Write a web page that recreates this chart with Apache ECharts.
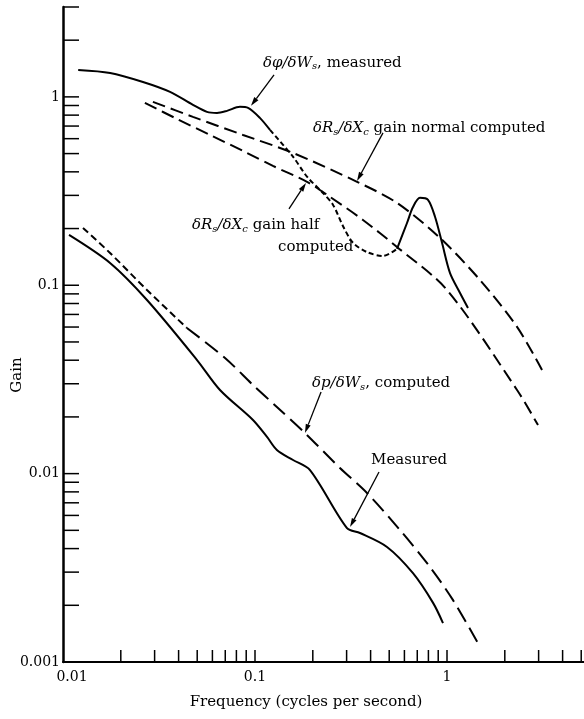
<!DOCTYPE html>
<html><head><meta charset="utf-8">
<script src="https://cdn.jsdelivr.net/npm/echarts@6/dist/echarts.min.js"></script>
<style>html,body{margin:0;padding:0;background:#fff}#c{width:584px;height:719px}</style>
</head><body><div id="c"></div>
<script>
// ---------------- DATA ----------------
// dphi/dWs measured (solid, dashed middle part, solid)
const phiSolid1X = [0.0120,0.0176,0.0261,0.0361,0.0475,0.0562,0.0634,0.0715,0.0835,0.092,0.106,0.1197];
const phiSolid1Y = [1.39,1.34,1.20,1.063,0.907,0.833,0.822,0.843,0.885,0.874,0.774,0.668];
const phiDashX   = [0.1197,0.158,0.187,0.226,0.255,0.287,0.324,0.383,0.464,0.549];
const phiDashY   = [0.668,0.480,0.376,0.309,0.267,0.2065,0.168,0.150,0.143,0.156];
const phiSolid2X = [0.549,0.619,0.665,0.723,0.796,0.866,0.942,1.037,1.169,1.286];
const phiSolid2Y = [0.156,0.214,0.260,0.291,0.284,0.231,0.168,0.116,0.0910,0.0758];
// dRs/dXc gain normal computed
const normalX = [0.0294,0.0475,0.0866,0.1578,0.340,0.549,0.919,1.485,2.316,3.125];
const normalY = [0.941,0.783,0.628,0.504,0.354,0.2736,0.1783,0.1067,0.0601,0.0355];
// dRs/dXc gain half computed
const halfX = [0.0267,0.0392,0.0583,0.0909,0.124,0.1866,0.246,0.365,0.549,1.0,2.316,2.978];
const halfY = [0.929,0.764,0.628,0.504,0.430,0.354,0.2944,0.2222,0.1597,0.0944,0.0278,0.0181];
// dp/dWs computed
const pCompShortX = [0.01271,0.01758,0.02738,0.0442];
const pCompShortY = [0.2015,0.1484,0.0944,0.0593];
const pCompLongX  = [0.0442,0.0698,0.0976,0.130,0.182,0.277,0.383,0.569,0.816,1.075,1.450];
const pCompLongY  = [0.0593,0.0411,0.02955,0.02258,0.01643,0.01071,0.00789,0.00502,0.00319,0.00213,0.00126];
// dp/dWs measured
const pMeasX = [0.01075,0.01758,0.02738,0.0499,0.0657,0.0976,0.1155,0.130,0.1578,0.1934,0.3014,0.352,0.487,0.665,0.846,0.953];
const pMeasY = [0.1850,0.1313,0.0835,0.0401,0.0278,0.01926,0.01565,0.01334,0.01181,0.01045,0.00514,0.00484,0.00408,0.00296,0.00206,0.00161];
// axis ticks and labels
const xTicks = [0.02,0.03,0.04,0.05,0.06,0.07,0.08,0.09,0.1,0.2,0.3,0.4,0.5,0.6,0.7,0.8,0.9,1,2,3,4,5];
const yTicks = [0.002,0.003,0.004,0.005,0.006,0.007,0.008,0.009,0.01,0.02,0.03,0.04,0.05,0.06,0.07,0.08,0.09,0.1,0.2,0.3,0.4,0.5,0.6,0.7,0.8,0.9,1,2,3];
const xLabelValues = [0.01,0.1,1];
const xLabelTexts  = ['0.01','0.1','1'];
const yLabelValues = [0.001,0.01,0.1,1];
const yLabelTexts  = ['0.001','0.01','0.1','1'];
const xMin = 0.01, xMax = 5.17, yMin = 0.001, yMax = 3;
const xTitle = 'Frequency (cycles per second)';
const yTitle = 'Gain';

// annotation texts (anchored in data coordinates)
const annotations = [
  {texts:[{t:'{i|δφ/δW}{s|s}, measured', at:[0.110,1.516]}], from:[0.1256,1.309], tip:[0.0953,0.896]},
  {texts:[{t:'{i|δR}{s|s}{i|/δX}{s|c} gain normal computed', at:[0.2005,0.684]}], from:[0.464,0.644], tip:[0.340,0.358]},
  {texts:[{t:'{i|δR}{s|s}{i|/δX}{s|c} gain half', at:[0.0470,0.209]},{t:'computed', at:[0.1318,0.1597]}], from:[0.1503,0.2542], tip:[0.1843,0.3494]},
  {texts:[{t:'{i|δp/δW}{s|s}, computed', at:[0.198,0.0303]}], from:[0.2208,0.0271], tip:[0.182,0.01643]},
  {texts:[{t:'Measured', at:[0.402,0.01181]}], from:[0.4424,0.0102], tip:[0.3125,0.0052]}
];

// ---------------- CHART ----------------
const FONT = 'DejaVu Serif';
const zip = (X, Y) => X.map((x, i) => [x, Y[i]]);
function lineSeries(X, Y, type) {
  return {type:'line', data: zip(X, Y), showSymbol:false, smooth:0.3, silent:true,
    lineStyle:{color:'#000', width:2, type:type}, z:3};
}
function fmt(values, texts) {
  return function (v) {
    for (let i = 0; i < values.length; i++) {
      if (Math.abs(Math.log10(v) - Math.log10(values[i])) < 1e-6) return i === 0 && values === xLabelValues ? '{first|' + texts[i] + '}' : texts[i];
    }
    return '';
  };
}
const rich = {
  i: {fontFamily: FONT, fontStyle:'italic', fontSize:15, lineHeight:18},
  s: {fontFamily: FONT, fontStyle:'italic', fontSize:10, lineHeight:12, verticalAlign:'bottom'}
};

const chart = echarts.init(document.getElementById('c'), null, {renderer:'canvas'});
chart.setOption({
  animation:false,
  backgroundColor:'#fff',
  grid:{left:63, right:0, top:7, bottom:57},
  xAxis:{type:'log', logBase:10, min:xMin, max:xMax,
    axisLine:{lineStyle:{color:'#000', width:2}}, axisTick:{show:false}, splitLine:{show:false},
    axisLabel:{formatter: fmt(xLabelValues, xLabelTexts), color:'#000', fontFamily:FONT, fontSize:14, margin:8,
      showMaxLabel:false, rich:{first:{fontFamily:FONT, fontSize:14, color:'#000', padding:[0,0,0,18]}}}},
  yAxis:{type:'log', logBase:10, min:yMin, max:yMax,
    axisLine:{lineStyle:{color:'#000', width:2.5}}, axisTick:{show:false}, splitLine:{show:false},
    axisLabel:{formatter: fmt(yLabelValues, yLabelTexts), color:'#000', fontFamily:FONT, fontSize:14, margin:3, showMaxLabel:false}},
  graphic:[
    {type:'text', x:17, y:375, rotation:Math.PI/2, style:{text:yTitle, font:'15px "DejaVu Serif"', fill:'#000', align:'center', verticalAlign:'middle'}},
    {type:'text', x:306, y:702, style:{text:xTitle, font:'15px "DejaVu Serif"', fill:'#000', align:'center', verticalAlign:'middle'}}
  ],
  series:[
    lineSeries(phiSolid1X, phiSolid1Y, 'solid'),
    lineSeries(phiDashX, phiDashY, [5,3]),
    lineSeries(phiSolid2X, phiSolid2Y, 'solid'),
    lineSeries(normalX, normalY, [13,6]),
    lineSeries(halfX, halfY, [13,6]),
    lineSeries(pCompShortX, pCompShortY, [7,4]),
    lineSeries(pCompLongX, pCompLongY, [16,7]),
    lineSeries(pMeasX, pMeasY, 'solid'),
    {type:'custom', silent:true, z:5, data: xTicks.map(v => [v, yMin]),
      renderItem:(p, api) => { const c = api.coord([api.value(0), api.value(1)]);
        return {type:'line', shape:{x1:c[0], y1:c[1], x2:c[0], y2:c[1]-12}, style:{stroke:'#000', lineWidth:1.5}}; }},
    {type:'custom', silent:true, z:5, data: yTicks.map(v => [xMin, v]),
      renderItem:(p, api) => { const c = api.coord([api.value(0), api.value(1)]);
        return {type:'line', shape:{x1:c[0], y1:c[1], x2:c[0]+16, y2:c[1]}, style:{stroke:'#000', lineWidth:1.5}}; }},
    {type:'custom', silent:true, z:6, data: annotations.map(a => a.tip),
      renderItem:(p, api) => {
        const a = annotations[p.dataIndex];
        const children = [];
        a.texts.forEach(tt => {
          const q = api.coord(tt.at);
          children.push({type:'text', x:q[0], y:q[1], style:{text:tt.t, rich:rich, fontFamily:FONT, fontSize:15, lineHeight:18,
            fill:'#000', align:'left', verticalAlign:'middle'}});
        });
        const p0 = api.coord(a.from), p1 = api.coord(a.tip);
        const dx = p1[0]-p0[0], dy = p1[1]-p0[1], L = Math.hypot(dx, dy);
        const ux = dx/L, uy = dy/L, nx = -uy, ny = ux, AL = 9, AW = 2.6;
        const bx = p1[0]-ux*AL, by = p1[1]-uy*AL;
        children.push({type:'line', shape:{x1:p0[0], y1:p0[1], x2:bx, y2:by}, style:{stroke:'#000', lineWidth:1.3}});
        children.push({type:'polygon', shape:{points:[[p1[0],p1[1]],[bx+nx*AW,by+ny*AW],[bx-nx*AW,by-ny*AW]]}, style:{fill:'#000'}});
        return {type:'group', children:children};
      }}
  ]
});
</script></body></html>
